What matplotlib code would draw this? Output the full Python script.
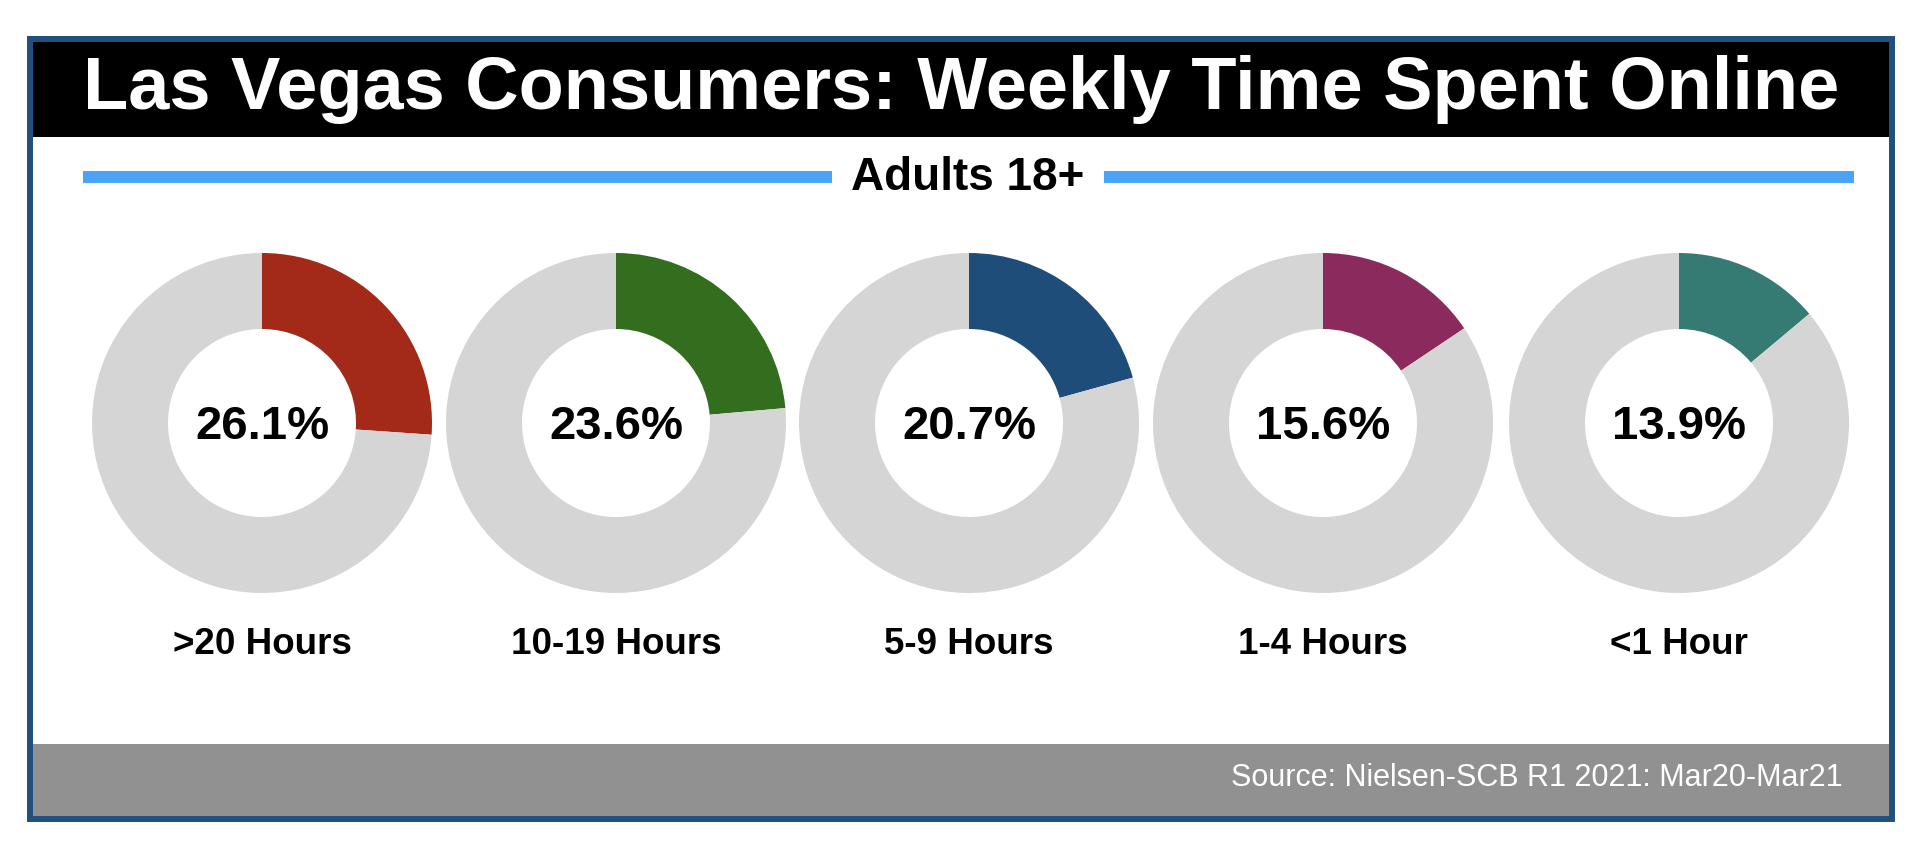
import matplotlib.pyplot as plt
import matplotlib.patches as mpatches

plt.rcParams['font.family'] = ['Liberation Sans', 'DejaVu Sans']

title = 'Las Vegas Consumers: Weekly Time Spent Online'
subtitle = 'Adults 18+'
source = 'Source: Nielsen-SCB R1 2021: Mar20-Mar21'
categories = ['>20 Hours', '10-19 Hours', '5-9 Hours', '1-4 Hours', '<1 Hour']
shares = [26.1, 23.6, 20.7, 15.6, 13.9]
colors = ['#a32a18', '#336e1f', '#1f4d7a', '#8b2a5c', '#357b74']

W, H = 1912, 852
fig = plt.figure(figsize=(W / 100, H / 100), dpi=100)
ax = fig.add_axes([0, 0, 1, 1])


def Y(y):
    # pixel rows from the top -> data y
    return H - y


# frame, title band, footer
ax.add_patch(mpatches.Rectangle((30, Y(819)), 1862, 780, facecolor='white',
                                edgecolor='#214f7e', linewidth=4.3, zorder=0))
ax.add_patch(mpatches.Rectangle((33, Y(137)), 1856, 95, facecolor='black', lw=0, zorder=1))
ax.add_patch(mpatches.Rectangle((33, Y(816)), 1856, 72, facecolor='#919191', lw=0, zorder=1))
ax.text(961, Y(90), title, color='white', fontsize=53.3, fontweight='bold',
        ha='center', va='center', zorder=2)

# subtitle with blue rules
ax.plot([83, 832], [Y(177), Y(177)], color='#4ba3f7', lw=8.6, solid_capstyle='butt')
ax.plot([1104, 1854], [Y(177), Y(177)], color='#4ba3f7', lw=8.6, solid_capstyle='butt')
ax.text(968, Y(178), subtitle, fontsize=33, fontweight='bold', ha='center', va='center')

# donuts
centers = [262, 616, 969, 1323, 1679]
r = 170
for cx, v, c, lab in zip(centers, shares, colors, categories):
    ax.pie([v, 100 - v], colors=[c, '#d5d5d5'], startangle=90, counterclock=False,
           center=(cx, Y(423)), radius=r, wedgeprops=dict(width=76, linewidth=0),
           frame=True)
    ax.text(cx, Y(427), f'{v:.1f}%', fontsize=34, fontweight='bold',
            ha='center', va='center')
    ax.text(cx, Y(644), lab, fontsize=26.5, fontweight='bold', ha='center', va='center')

ax.set_xlim(0, W)
ax.set_ylim(0, H)
ax.set_aspect('equal')
ax.axis('off')

ax.text(1843, Y(778), source, color='white', fontsize=22, ha='right', va='center')

fig.savefig('out.png', dpi=100)
